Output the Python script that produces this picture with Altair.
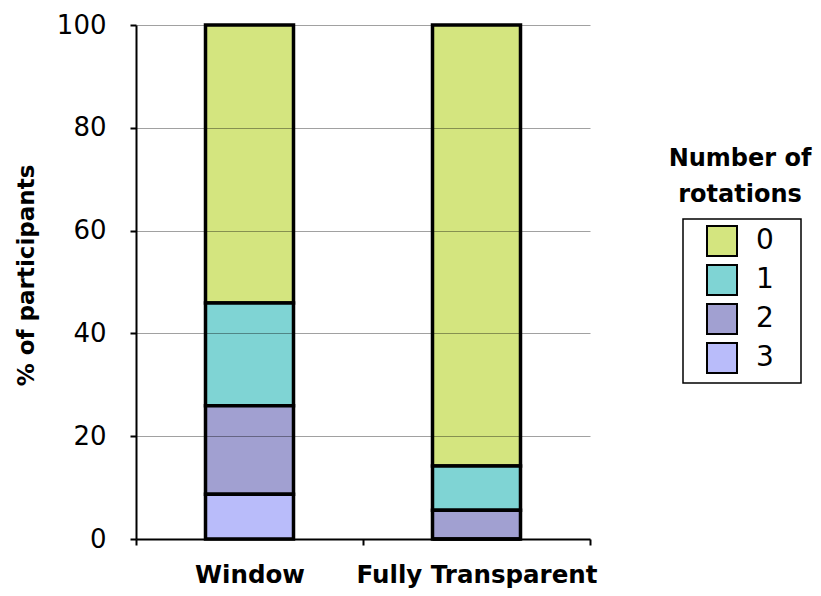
import altair as alt
import pandas as pd

groups = ["Window", "Fully Transparent"]
rotations = ["0", "1", "2", "3"]
window_pct = [54.1, 20.0, 17.2, 8.7]
transparent_pct = [85.8, 8.6, 5.6, 0.0]
colors = ["#d4e57f", "#7fd4d4", "#a1a0d1", "#b9bcfa"]
legend_title = "Number of\nrotations"
y_title = "% of participants"
y_ticks = [0, 20, 40, 60, 80, 100]

rows = []
for g, vals in zip(groups, [window_pct, transparent_pct]):
    for r, v in zip(rotations, vals):
        rows.append({"condition": g, "rotations": r, "pct": v, "stack_order": -int(r)})
df = pd.DataFrame(rows)

FONT = "DejaVu Sans"
PAD_CHAR = "\u2800"

bars = alt.Chart(df).mark_bar(size=88, stroke="black", strokeWidth=3.5).encode(
    x=alt.X(
        "condition:N",
        sort=groups,
        scale=alt.Scale(paddingInner=0, paddingOuter=0),
        axis=alt.Axis(
            title=None,
            labelAngle=0,
            tickBand="extent",
            labelFont=FONT,
            labelFontSize=24.5,
            labelFontWeight="bold",
            labelColor="black",
            labelPadding=18,
            labelBaseline="top",
            labelLimit=400,
            tickColor="black",
            tickSize=6,
            tickWidth=2,
            domainColor="black",
            domainWidth=2,
        ),
    ),
    y=alt.Y(
        "pct:Q",
        stack="zero",
        scale=alt.Scale(domain=[0, 100], nice=False),
        axis=alt.Axis(
            title=y_title,
            values=y_ticks,
            titleFont=FONT,
            titleFontSize=23,
            titleFontWeight="bold",
            titleColor="black",
            titleAngle=270,
            titleAlign="center",
            titleBaseline="alphabetic",
            titleX=-103,
            titleY=250,
            labelFont=FONT,
            labelFontSize=26,
            labelColor="black",
            labelPadding=24,
            tickColor="black",
            tickSize=6,
            tickWidth=2,
            domainColor="black",
            domainWidth=2,
            grid=True,
            gridColor="black",
            gridOpacity=0.37,
            gridWidth=1,
            zindex=1,
        ),
    ),
    color=alt.Color(
        "rotations:N",
        scale=alt.Scale(domain=rotations, range=colors),
        legend=alt.Legend(
            title=None,
            orient="none",
            legendX=547,
            legendY=194,
            symbolType="square",
            symbolSize=900,
            symbolStrokeColor="black",
            symbolStrokeWidth=2,
            symbolOpacity=1,
            symbolOffset=17,
            labelFont=FONT,
            labelFontSize=28,
            labelColor="black",
            labelOffset=18,
            labelExpr="datum.label + '" + PAD_CHAR + "'",
            rowPadding=1,
            padding=6,
            strokeColor="black",
            fillColor="white",
        ),
    ),
    order=alt.Order("stack_order:Q"),
)

title_df = pd.DataFrame({"t": [legend_title]})
title = alt.Chart(title_df).mark_text(
    font=FONT,
    fontSize=24,
    fontWeight="bold",
    color="black",
    align="center",
    baseline="alphabetic",
    lineBreak="\n",
    lineHeight=36,
).encode(
    text="t:N",
    x=alt.value(604),
    y=alt.value(141),
)

chart = (
    alt.layer(bars, title)
    .properties(
        width=454,
        height=514,
        autosize=alt.AutoSizeParams(type="none"),
        padding={"left": 128, "top": 17, "right": 223, "bottom": 49},
    )
    .configure_view(stroke=None)
    .configure_legend(strokeWidth=1.5)
)

chart.save("out.html", embed_options={"renderer": "svg", "actions": False})
